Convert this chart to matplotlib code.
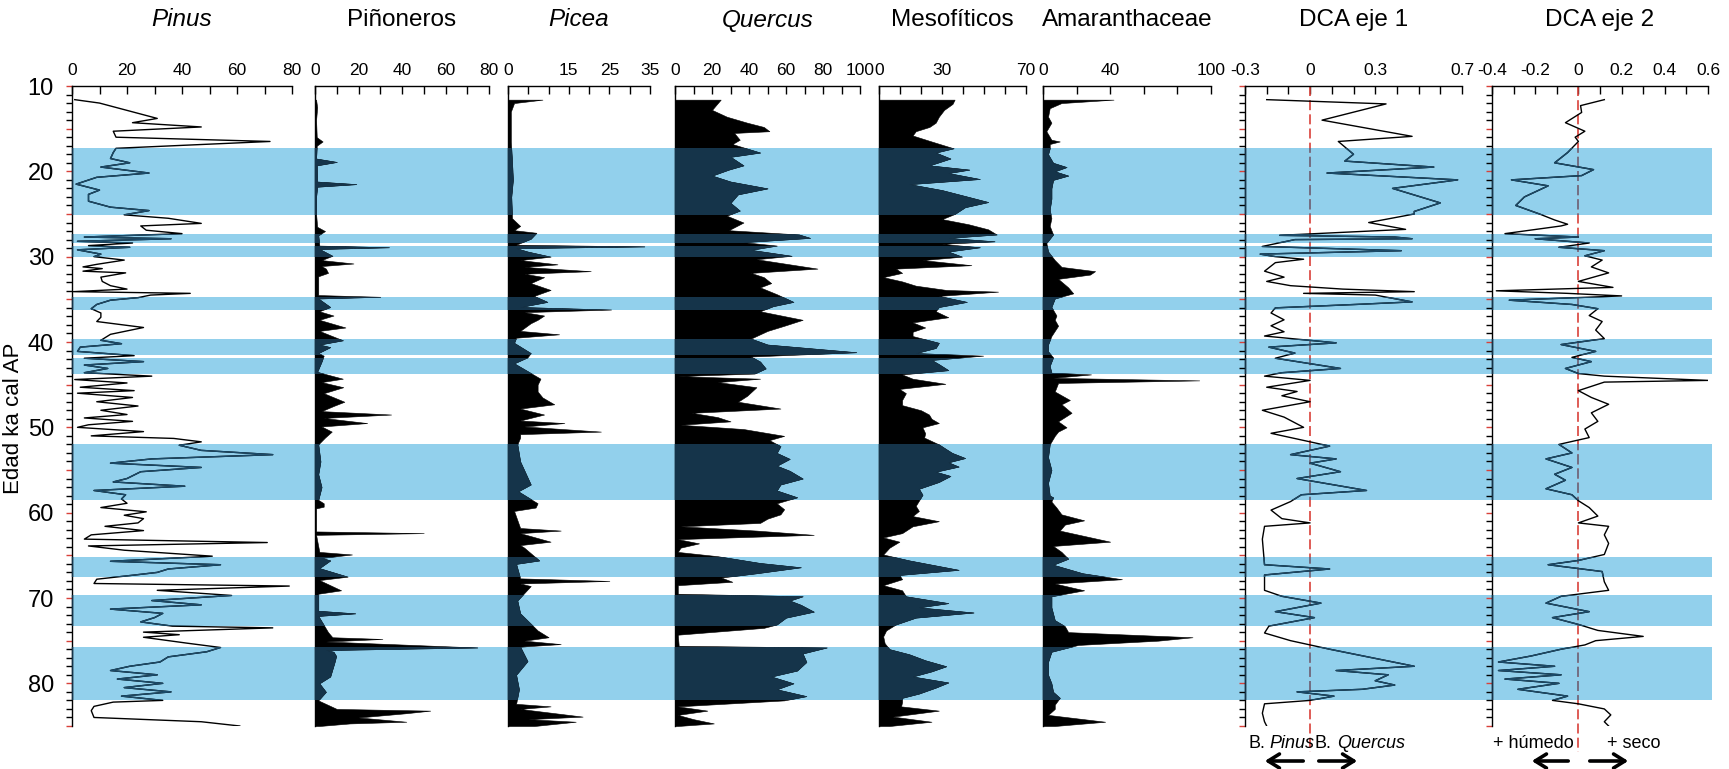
import matplotlib
matplotlib.use("Agg")
import matplotlib.pyplot as plt
import matplotlib.transforms as mtransforms
from matplotlib.path import Path
from matplotlib.patches import FancyArrowPatch
from matplotlib.ticker import MultipleLocator, FixedLocator, FixedFormatter, FuncFormatter
from matplotlib import font_manager as fm

# ---------------- DATA ----------------
band_top = [17.3, 27.4, 28.8, 34.7, 39.7, 41.9, 51.9, 65.2, 69.7, 75.7]
band_bot = [25.1, 28.4, 30.0, 36.2, 41.5, 43.7, 58.5, 67.5, 73.3, 82.0]

pinus_age = [11.6, 12.0, 13.8, 14.3, 14.8, 15.3, 16.0, 16.5, 17.3, 17.8, 18.5, 19.0, 19.5, 20.2, 20.7,
             21.5, 22.2, 22.7, 23.5, 24.2, 24.6, 25.1, 25.5, 26.1, 26.4, 26.9, 27.3, 27.7, 27.9, 28.2,
             28.4, 28.7, 28.9, 29.2, 29.7, 30.0, 30.4, 30.9, 31.2, 31.4, 31.7, 31.9, 32.4, 32.9, 33.4,
             33.8, 34.1, 34.3, 34.5, 34.8, 35.1, 35.6, 36.1, 36.6, 37.1, 37.6, 38.3, 39.1, 39.8, 40.2,
             40.6, 41.1, 41.6, 41.9, 42.3, 42.7, 43.1, 43.6, 44.0, 44.4, 44.8, 45.3, 45.7, 46.0, 46.5,
             47.0, 47.5, 48.0, 48.5, 48.9, 49.3, 49.7, 50.0, 50.5, 51.0, 51.3, 51.7, 52.1, 52.7, 53.2,
             53.7, 54.2, 54.7, 55.2, 56.0, 56.4, 56.9, 57.4, 57.9, 58.4, 58.9, 59.4, 59.9, 60.3, 60.7,
             61.2, 61.6, 62.1, 62.6, 63.1, 63.5, 63.9, 64.4, 65.1, 65.7, 66.1, 66.6, 67.0, 67.3, 67.8,
             68.3, 68.6, 69.1, 69.7, 70.3, 70.8, 71.3, 71.8, 72.3, 72.8, 73.3, 73.5, 74.0, 74.3, 74.6,
             75.3, 75.8, 76.3, 76.9, 77.5, 78.0, 78.5, 79.0, 79.5, 80.0, 80.5, 81.0, 81.5, 82.0, 82.2,
             82.7, 83.2, 84.0, 84.5, 85.0]
pinus_pct = [1, 10, 31, 22, 47, 15, 16, 72, 16, 15, 14, 21, 10.5, 28, 9,
             1.5, 10, 6, 6, 14, 28, 19, 35, 47, 25, 27, 40, 4.5, 36, 2,
             22, 6, 21, 2, 10.5, 8, 19, 9, 4, 11, 4, 19.5, 10.5, 11, 14,
             20, 0.5, 43, 28.6, 24, 14, 9, 7, 10.5, 10.5, 9, 26, 14, 10.5, 18,
             3, 2, 22.6, 4.5, 26, 4.5, 13, 4.5, 29, 1, 20, 3, 22.6, 2, 22,
             9, 24, 10.5, 20, 4.5, 22, 6, 2, 26, 7, 37, 47, 39, 47, 73,
             29, 14, 47, 25, 20, 15, 41, 8, 19.5, 18, 20, 10.5, 27, 19, 26,
             24, 12, 26, 7, 4.5, 71, 6, 19, 51, 14, 54, 35, 31, 23, 9,
             8, 79, 31, 58, 29, 47, 14, 33, 30, 25, 36.5, 73, 26, 39, 26,
             42, 54, 49, 35, 32, 21, 14, 31, 16.5, 33, 19, 36, 18, 33, 15,
             8, 7, 8, 47, 61]

pinon_age = [11.6, 12.5, 14, 16.0, 16.5, 17.0, 18.5, 18.9, 19.3, 21.2, 21.5, 21.8, 23, 25, 26.5,
             27.0, 27.5, 28.7, 28.9, 29.1, 29.9, 30.4, 30.8, 31.1, 31.4, 31.9, 32.3, 34.5, 34.7, 34.9,
             35.9, 36.4, 36.9, 37.4, 38.3, 38.7, 39.8, 40.3, 40.6, 41.3, 41.6, 42.3, 43.5, 44.3, 44.7,
             45.3, 46.0, 47.0, 47.5, 48.1, 48.5, 48.9, 49.5, 49.9, 50.5, 51.2, 52, 54, 55.5, 57,
             58.5, 58.9, 59.3, 59.5, 62.2, 62.4, 62.6, 64.6, 64.9, 65.3, 65.6, 66.5, 67.5, 67.9, 69.1,
             69.5, 71.5, 71.8, 72.1, 74.0, 74.6, 74.8, 75.1, 75.8, 76.1, 76.3, 76.8, 77.5, 79.2, 80,
             81, 82, 83.0, 83.2, 83.5, 84.0, 84.5, 84.7, 85.0]
pinon_pct = [0.5, 1, 0.5, 0.8, 3.5, 0.8, 0.5, 10, 0.8, 1, 19, 1, 0.5, 0.5, 1,
             4.6, 1.5, 2, 34, 2, 8, 3, 17.7, 3, 5, 6, 1.5, 1.5, 30, 1.5,
             7, 2, 8.5, 2, 14, 2, 12.8, 2, 7, 1.5, 4, 3, 1, 12.8, 3,
             13, 4, 13.5, 8.5, 3, 35, 4, 24, 3, 7.7, 4.6, 1.5, 2.5, 1.5, 3,
             1.5, 4, 4, 0.5, 0.5, 50, 0.5, 2, 17, 3, 7, 2, 15, 2, 12,
             1.5, 1.5, 18.5, 1.5, 6, 8, 31, 5, 74.6, 5, 8.5, 9.7, 9, 7, 2,
             5, 1.5, 10, 53, 42, 20, 42, 16, 2]

picea_age = [11.6, 12.0, 13, 16.5, 19, 21, 23, 25.5, 26.4, 26.9, 27.2, 27.9, 28.6, 28.8, 29.0,
             29.4, 30.0, 30.4, 30.9, 31.2, 31.7, 32.0, 32.4, 33.1, 33.9, 34.6, 35.3, 35.9, 36.2, 36.5,
             36.9, 37.4, 37.8, 38.7, 39.1, 39.5, 40.1, 41.3, 41.8, 42.5, 44.3, 45.0, 45.8, 46.5, 47.3,
             47.8, 48.5, 49.2, 49.5, 49.9, 50.5, 50.8, 51.2, 52, 54, 56.7, 57.5, 58.9, 59.4, 59.8,
             61.8, 62.1, 62.4, 63.4, 63.8, 64.1, 65.6, 66.0, 67.7, 68.0, 68.3, 68.6, 70.3, 71.8, 73.8,
             74.6, 75.0, 75.4, 75.7, 77.4, 79, 80.7, 82.4, 82.7, 83.0, 83.9, 84.2, 84.5, 85.0]
picea_pct = [8.5, 1.5, 0.7, 0.7, 1, 1.2, 0.8, 1, 3, 1.5, 7, 5.6, 2, 33.6, 2,
             4.8, 10.5, 3, 12.2, 4, 20.4, 4, 8.9, 5.6, 10.5, 6.4, 9.7, 3, 25.4, 4,
             8.9, 7.3, 5.6, 3, 12.6, 2, 1.5, 5.6, 4.8, 1.5, 8, 7.3, 7.3, 8.5, 11.4,
             3, 8.9, 3, 13.9, 4, 22.9, 3, 3, 2.3, 3, 5.6, 2.5, 7.3, 6.8, 1.5,
             3, 13, 3, 10.5, 3, 4, 7.7, 2, 3, 25, 3, 5.6, 2.3, 3, 7.3,
             10, 4, 13, 3, 4.8, 2, 2.7, 2, 10.5, 3, 18.4, 5, 16.7, 6.5]

quercus_age = [11.6, 12.8, 13.6, 14.3, 14.8, 15.3, 15.5, 16.3, 16.8, 17.8, 18.3, 19.3, 19.8, 20.5, 21.2,
               22.0, 22.7, 23.7, 24.6, 25.2, 26.0, 26.9, 27.4, 27.8, 28.3, 28.7, 29.2, 29.9, 30.3, 31.4,
               31.9, 32.4, 33.1, 33.6, 34.4, 35.3, 35.8, 36.4, 37.4, 38.1, 38.7, 39.6, 40.3, 41.2, 41.7,
               42.3, 43.1, 43.7, 44.0, 44.3, 44.7, 45.3, 46.3, 47.0, 47.8, 48.3, 48.8, 49.3, 49.7, 50.2,
               51.0, 51.5, 52.2, 53.0, 53.7, 54.5, 55.1, 56.0, 56.7, 57.4, 58.2, 58.9, 59.6, 60.2, 60.7,
               61.2, 61.6, 62.1, 62.6, 63.1, 63.6, 64.1, 64.6, 65.1, 65.9, 66.4, 67.1, 67.6, 68.1, 68.5,
               69.5, 69.8, 70.3, 70.8, 71.6, 72.3, 73.1, 73.5, 74.3, 75.6, 75.8, 76.5, 77.5, 78.5, 79.2,
               80.0, 80.7, 81.5, 82.0, 82.7, 83.2, 83.7, 84.2, 84.7, 85.0]
quercus_pct = [24.7, 20, 28, 39, 48, 51, 32, 35, 31, 46, 30, 37, 29, 20, 30,
               50, 34, 30, 35, 28, 37, 29, 67, 73, 37, 55, 41, 63, 44, 77,
               41, 48, 52, 46, 55, 64, 53, 46, 69, 59, 50, 41, 50, 98, 41,
               46, 49, 43, 1.5, 46, 23, 44, 39, 34, 57, 9, 23, 30, 3, 37,
               59, 51, 57, 55, 62, 55, 62, 69, 57, 55, 66, 55, 59, 57, 50,
               46, 3, 44, 75, 1.5, 13, 3, 1.5, 23, 46, 68, 44, 25, 31, 1.5,
               1.5, 69, 62, 68, 75, 60, 55, 48, 1.5, 2, 82, 69, 71, 66, 52,
               64, 55, 71, 59, 1.5, 17.5, 1.5, 10, 21, 1.5]

meso_age = [11.6, 12.1, 12.8, 13.6, 14.3, 14.8, 15.3, 15.8, 16.5, 17.3, 17.8, 18.5, 19.3, 19.8, 20.2,
            20.9, 21.5, 22.2, 23.0, 23.6, 24.2, 25.0, 25.6, 26.2, 26.8, 27.4, 27.8, 28.2, 28.5, 28.9,
            29.4, 30.0, 30.4, 31.0, 31.4, 31.9, 32.4, 32.9, 33.4, 33.9, 34.1, 34.6, 35.3, 35.9, 36.4,
            37.1, 37.7, 38.3, 38.8, 39.3, 40.1, 40.7, 41.3, 41.6, 42.1, 42.6, 43.3, 43.8, 44.3, 44.9,
            45.5, 46.0, 46.8, 47.4, 48.0, 48.5, 49.0, 49.5, 50.0, 50.7, 51.2, 52.0, 52.5, 53.0, 53.6,
            54.1, 54.6, 55.2, 55.7, 56.4, 57.2, 57.9, 58.6, 59.2, 59.8, 60.4, 61.0, 61.6, 62.4, 62.9,
            63.4, 64.1, 64.9, 65.6, 66.7, 67.3, 67.8, 68.5, 69.1, 69.8, 70.6, 71.1, 71.7, 72.3, 73.1,
            73.8, 74.5, 75.3, 76.0, 76.6, 77.3, 78.0, 78.6, 79.2, 79.9, 80.5, 81.2, 81.7, 82.2, 82.7,
            83.2, 83.9, 84.5, 85.0]
meso_pct = [36, 35, 31, 28.5, 27, 24, 17.5, 16, 25, 35.5, 27, 34, 24, 43, 33,
            48, 14.4, 30, 42.6, 52, 41, 36, 30, 42.6, 52, 56, 33, 55, 30, 48,
            33, 39.5, 20.7, 44, 8, 11, 2, 11, 17.5, 32, 56.7, 28.5, 41.8, 28.5, 27,
            33, 16, 22, 16, 16, 28.5, 27, 17.5, 49.6, 25, 28.5, 33, 11, 16, 31.6,
            9.7, 12.8, 11, 11, 20, 23.8, 25, 28.5, 20.7, 22, 21.5, 28.5, 31.6, 34.8, 41,
            33, 37.9, 27, 34, 28.5, 19, 20.7, 19, 17.5, 19, 16, 28.5, 16, 11, 2,
            9.7, 5, 2, 14.4, 37.9, 9.7, 11, 2, 11, 12.8, 33, 19, 45, 17.5, 8,
            3.4, 2, 2.7, 5, 14.4, 22, 32, 25, 16, 33, 27, 19, 11, 11, 10.5,
            28.5, 6.6, 25, 5]

amaran_age = [11.6, 12.0, 12.6, 13.6, 14.3, 15.3, 16.3, 16.5, 16.8, 17.3, 18.0, 19.0, 19.5, 20.0, 20.5,
              21.0, 22.0, 23.2, 24.5, 25.5, 26.4, 27.4, 28.4, 29.4, 30.4, 31.2, 31.7, 32.1, 32.6, 33.6,
              34.3, 34.9, 35.9, 36.9, 37.4, 38.1, 39.3, 40.3, 41.1, 41.8, 42.8, 43.6, 43.8, 44.2, 44.5,
              44.8, 45.8, 46.8, 47.3, 48.3, 49.3, 50.0, 50.5, 51.0, 52, 53.5, 55, 56.5, 58, 58.2,
              58.7, 59.4, 60.2, 60.9, 61.4, 62.1, 63.4, 63.9, 64.6, 65.4, 66.1, 67.1, 67.8, 68.3, 69.1,
              69.8, 71.1, 72.6, 73.3, 74.0, 74.6, 75.0, 75.5, 76.3, 77.5, 79.0, 80.0, 81.0, 81.7, 82.5,
              83.0, 83.7, 84.5, 85.0]
amaran_pct = [42, 11, 4, 3, 5, 2, 5, 10, 4, 4, 3, 6, 14, 7, 15,
              6, 5, 5, 4, 5, 4, 6, 2, 3, 7, 11, 31, 28, 9, 15,
              18, 7, 5, 8, 7, 9, 5, 3, 3, 6, 4, 5, 28.6, 6, 93,
              9, 7, 16, 11, 17, 9, 14, 9, 7, 4, 3, 5, 3, 4, 6,
              5, 8, 11, 24.5, 13, 10, 40, 6, 11, 15, 6, 23.5, 47, 7, 24.5,
              5, 5, 7, 13, 15, 89, 68.5, 21, 5, 3, 3, 5, 6, 10, 7,
              7, 3, 37, 7]

dca1_age = [11.6, 12.1, 14.0, 15.9, 16.5, 18.0, 18.8, 19.5, 20.2, 21.0, 22.0, 23.7, 24.7, 25.0, 26.0,
            26.8, 27.5, 27.7, 27.9, 28.0, 28.8, 29.3, 29.7, 30.0, 30.3, 30.7, 31.7, 32.4, 32.9, 33.4,
            33.8, 34.1, 34.3, 34.5, 35.3, 35.6, 36.0, 36.6, 37.4, 38.1, 38.8, 39.3, 40.1, 40.6, 41.3,
            41.9, 43.1, 43.6, 44.0, 44.5, 45.3, 45.8, 46.3, 47.0, 48.0, 48.8, 50.0, 50.7, 52.2, 53.2,
            53.7, 54.2, 55.2, 56.0, 57.4, 57.9, 58.7, 59.7, 60.7, 61.2, 61.6, 63.1, 66.1, 66.6, 67.3,
            69.1, 69.8, 70.6, 71.6, 72.3, 73.3, 74.1, 75.0, 76.0, 78.0, 78.5, 79.0, 79.7, 80.2, 80.7,
            81.0, 81.5, 82.0, 82.4, 83.5, 84.5, 85.0]
dca1_val = [-0.20, 0.35, 0.055, 0.47, 0.13, 0.20, 0.16, 0.57, 0.078, 0.68, 0.38, 0.60, 0.48, 0.48, 0.27,
            0.44, -0.14, 0.39, 0.47, -0.07, -0.22, 0.42, -0.23, -0.16, -0.03, -0.16, -0.21, -0.12, -0.20, -0.09,
            0.15, 0.48, -0.03, 0.30, 0.47, 0.21, -0.16, -0.18, -0.12, -0.18, -0.12, -0.21, 0.12, -0.19, -0.07,
            -0.16, 0.14, -0.13, -0.21, 0.0, -0.20, -0.06, -0.13, 0.0, -0.22, -0.12, -0.03, -0.18, 0.09, -0.09,
            0.12, 0.0, 0.14, -0.06, 0.26, -0.04, -0.09, -0.18, -0.13, 0.0, -0.21, -0.22, -0.21, 0.09, -0.21,
            -0.21, -0.13, 0.05, -0.16, 0.02, -0.19, -0.21, -0.09, 0.09, 0.48, 0.12, 0.36, 0.30, 0.39, 0.24,
            -0.06, 0.11, 0.0, -0.21, -0.22, -0.21, -0.20]

dca2_age = [11.6, 12.3, 13.1, 14.3, 15.3, 16.0, 16.5, 17.8, 19.0, 19.8, 20.5, 21.0, 21.7, 23.0, 24.0,
            25.0, 25.7, 26.2, 26.4, 27.3, 27.7, 27.9, 28.4, 28.9, 29.3, 29.9, 30.4, 31.2, 31.9, 32.9,
            33.6, 34.0, 34.3, 34.6, 35.1, 35.6, 36.1, 36.9, 37.6, 38.6, 39.6, 40.3, 41.1, 41.8, 42.3,
            43.1, 43.7, 44.0, 44.5, 44.7, 45.7, 46.5, 47.3, 48.3, 49.3, 50.2, 51.2, 52.0, 53.0, 53.7,
            54.7, 55.5, 56.2, 57.2, 57.9, 58.6, 59.4, 60.4, 61.2, 61.6, 62.6, 63.6, 64.9, 65.6, 66.1,
            66.9, 68.1, 69.1, 69.8, 70.6, 71.6, 72.3, 73.1, 73.8, 74.5, 75.0, 75.5, 76.0, 76.8, 77.5,
            78.0, 78.5, 79.0, 79.5, 80.0, 80.7, 81.5, 82.0, 82.4, 83.0, 83.7, 84.5, 85.0]
dca2_val = [0.12, 0.01, 0.015, -0.06, 0.03, -0.015, 0.0, -0.05, -0.11, 0.07, 0.015, -0.31, -0.14, -0.25, -0.29,
            -0.18, -0.11, -0.05, -0.08, -0.34, 0.0, -0.20, 0.05, -0.09, 0.12, 0.03, 0.11, 0.06, 0.14, 0.0,
            0.16, -0.38, -0.05, 0.20, -0.32, -0.03, 0.09, 0.05, 0.11, 0.08, 0.12, -0.08, 0.08, -0.03, 0.06,
            -0.06, 0.0, 0.12, 0.60, 0.12, 0.0, 0.06, 0.14, 0.06, 0.09, 0.03, 0.05, -0.09, -0.03, -0.15,
            -0.03, -0.11, -0.06, -0.15, -0.03, 0.0, 0.05, 0.09, 0.0, 0.14, 0.12, 0.14, 0.12, 0.0, -0.14,
            0.11, 0.12, 0.14, -0.08, -0.15, 0.05, -0.12, 0.0, 0.09, 0.30, 0.08, 0.03, -0.08, -0.22, -0.37,
            -0.11, -0.37, -0.08, -0.34, -0.09, -0.28, -0.05, -0.12, 0.0, 0.12, 0.15, 0.12, 0.14]

titles = ["Pinus", "Piñoneros", "Picea", "Quercus", "Mesofíticos", "Amaranthaceae", "DCA eje 1", "DCA eje 2"]
tick_labels = [[0, 20, 40, 60, 80], [0, 20, 40, 60, 80], [0, 15, 25, 35], [0, 20, 40, 60, 80, 100],
               [0, 30, 70], [0, 40, 100], [-0.3, 0, 0.3, 0.7], [-0.4, -0.2, 0, 0.2, 0.4, 0.6]]

# ---------------- STYLE / LAYOUT ----------------
names = {f.name for f in fm.fontManager.ttflist}
FONT = "Liberation Sans Narrow" if "Liberation Sans Narrow" in names else "Liberation Sans"
plt.rcParams["font.family"] = [FONT, "DejaVu Sans"]

W, H = 1729, 769
TOP, BOT = 86, 726
YMIN, YMAX = 10, 85
BAND = "#92D0EC"
NAVY = "#15344A"
LINE_BAND = "#1B4A68"
RED = "#D9413A"

panels = [
    dict(px=(72, 292), xlim=(0, 80), minor=10, kind="line", italic=True),
    dict(px=(315, 489), xlim=(0, 80), minor=10, kind="fill", italic=False),
    dict(px=(508, 650), xlim=(0, 35), minor=5, kind="fill", italic=True),
    dict(px=(675, 860), xlim=(0, 100), minor=10, kind="fill", italic=True),
    dict(px=(879, 1026), xlim=(0, 70), minor=10, kind="fill", italic=False),
    dict(px=(1043, 1211), xlim=(0, 100), minor=20, kind="fill", italic=False),
    dict(px=(1245, 1462), xlim=(-0.3, 0.7), minor=0.1, kind="line", italic=False, dca=True),
    dict(px=(1492, 1708), xlim=(-0.4, 0.6), minor=0.1, kind="line", italic=False, dca=True),
]
series = [(pinus_age, pinus_pct), (pinon_age, pinon_pct), (picea_age, picea_pct),
          (quercus_age, quercus_pct), (meso_age, meso_pct), (amaran_age, amaran_pct),
          (dca1_age, dca1_val), (dca2_age, dca2_val)]


def rect(l, r):
    return [l / W, 1 - BOT / H, (r - l) / W, (BOT - TOP) / H]


def band_path():
    verts, codes = [], []
    for a, b in zip(band_top, band_bot):
        verts += [(-0.02, a), (1.02, a), (1.02, b), (-0.02, b), (-0.02, a)]
        codes += [Path.MOVETO, Path.LINETO, Path.LINETO, Path.LINETO, Path.CLOSEPOLY]
    return Path(verts, codes)


def clip_bands(artist, ax, keep_box=True):
    trans = mtransforms.blended_transform_factory(ax.transAxes, ax.transData)
    artist.set_clip_path(band_path(), trans)
    if not keep_box:
        artist.set_clip_box(None)


def fmt(v):
    if v == 0:
        return "0"
    return f"{v:g}"


fig = plt.figure(figsize=(W / 100, H / 100), dpi=100)

# background bands
bg = fig.add_axes(rect(72, 1712))
bg.set_ylim(YMAX, YMIN)
bg.set_xlim(0, 1)
for a, b in zip(band_top, band_bot):
    bg.axhspan(a, b, color=BAND, lw=0)
bg.axis("off")
bg.set_zorder(0)

for i, (p, (age, val)) in enumerate(zip(panels, series)):
    ax = fig.add_axes(rect(*p["px"]))
    ax.set_zorder(1)
    ax.patch.set_alpha(0)
    ax.set_xlim(*p["xlim"])
    ax.set_ylim(YMAX, YMIN)
    for s in ("right", "bottom"):
        ax.spines[s].set_visible(False)
    for s in ("top", "left"):
        ax.spines[s].set_linewidth(1.0)

    # x axis on top
    ax.xaxis.tick_top()
    ax.xaxis.set_major_locator(FixedLocator(tick_labels[i]))
    ax.xaxis.set_major_formatter(FixedFormatter([fmt(v) for v in tick_labels[i]]))
    ax.xaxis.set_minor_locator(MultipleLocator(p["minor"]))
    ax.tick_params(axis="x", which="both", direction="in", length=6, width=1.0,
                   top=True, bottom=False, labeltop=True, labelbottom=False, pad=6,
                   labelsize=12.5)

    # y axis
    if i == 0 or p.get("dca"):
        ax.yaxis.set_major_locator(MultipleLocator(5))
        ax.yaxis.set_minor_locator(MultipleLocator(1))
        ax.tick_params(axis="y", which="both", direction="out", length=4, width=1.0)
        ax.tick_params(axis="y", which="major", color=RED)
        if i == 0:
            ax.yaxis.set_major_formatter(FuncFormatter(lambda v, pos: f"{int(v)}" if int(round(v)) % 10 == 0 else ""))
            ax.tick_params(axis="y", which="major", labelsize=17, pad=9)
        else:
            ax.tick_params(axis="y", labelleft=False)
    else:
        ax.tick_params(axis="y", which="both", left=False, labelleft=False)

    x0 = p["xlim"][0]
    if p["kind"] == "fill":
        ax.fill_betweenx(age, 0, val, facecolor="black", edgecolor="black", lw=0.4, zorder=2)
        ov = ax.fill_betweenx(age, 0, val, facecolor=NAVY, edgecolor=NAVY, lw=0.4, zorder=3)
        clip_bands(ov, ax)
    else:
        if p.get("dca"):
            ax.plot([0, 0], [YMIN, 88.1], color=RED, lw=1.2, ls=(0, (6, 2.5)), zorder=2, clip_on=False)
            zl, = ax.plot([0, 0], [YMIN, YMAX], color="#62768F", lw=1.2, ls=(0, (6, 2.5)), zorder=2.5)
            clip_bands(zl, ax)
        ax.plot(val, age, color="black", lw=1.0, zorder=3)
        ln, = ax.plot(val, age, color=LINE_BAND, lw=1.0, zorder=4)
        clip_bands(ln, ax)

    sp, = ax.plot([x0, x0], [YMIN, YMAX], color=NAVY, lw=1.0, zorder=5)
    clip_bands(sp, ax, keep_box=False)

    cx = (p["px"][0] + p["px"][1]) / 2
    fig.text(cx / W, 1 - 20 / H, titles[i], ha="center", va="center", fontsize=17.5,
             fontstyle="italic" if p["italic"] else "normal")

# y-axis label
fig.text(14 / W, 1 - (TOP + (49 - YMIN) * (BOT - TOP) / (YMAX - YMIN)) / H, "Edad ka cal AP",
         rotation=90, ha="center", va="center", fontsize=16)

# bottom annotations
yt = 1 - 744 / H
fs = 13
fig.text(1248 / W, yt, "B.", ha="left", va="center", fontsize=fs)
fig.text(1269 / W, yt, "Pinus", ha="left", va="center", fontsize=fs, fontstyle="italic")
fig.text(1315 / W, yt, "B.", ha="left", va="center", fontsize=fs)
fig.text(1337 / W, yt, "Quercus", ha="left", va="center", fontsize=fs, fontstyle="italic")
fig.text(1533 / W, yt, "+ húmedo", ha="center", va="center", fontsize=fs)
fig.text(1634 / W, yt, "+ seco", ha="center", va="center", fontsize=fs)

ya = 1 - 761 / H
for xa, xb in [(1306, 1262), (1316, 1360), (1571, 1529), (1587, 1631)]:
    arr = FancyArrowPatch((xa / W, ya), (xb / W, ya), transform=fig.transFigure,
                          arrowstyle="->,head_length=0.45,head_width=0.28", mutation_scale=18,
                          lw=2.6, color="black")
    fig.add_artist(arr)

fig.savefig("out.png", dpi=100)
